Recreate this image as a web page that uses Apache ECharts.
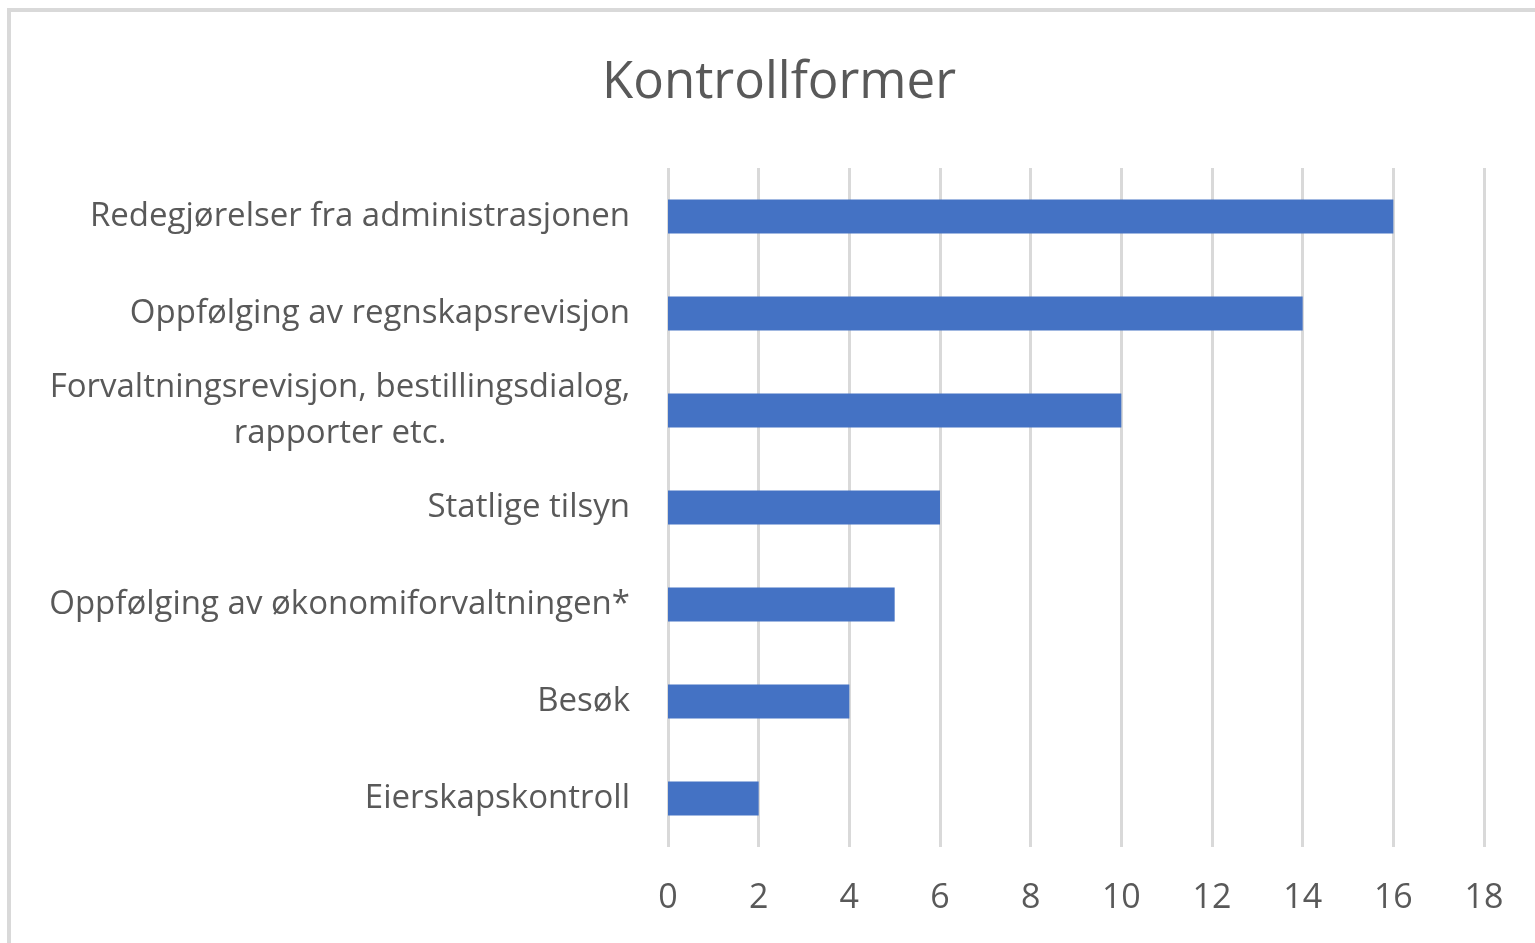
<!DOCTYPE html>
<html>
<head>
<meta charset="utf-8">
<script src="https://cdn.jsdelivr.net/npm/echarts@6/dist/echarts.min.js"></script>
<style>
  html, body { margin: 0; padding: 0; background: #fff; }
  #frame { position: absolute; left: 7px; top: 8px; width: 1540px; height: 950px;
           border-left: 4px solid #d9d9d9; border-top: 4px solid #d9d9d9; }
  #chart { position: absolute; left: 0; top: 0; width: 1535px; height: 943px; }
</style>
</head>
<body>
<div id="frame"></div>
<div id="chart"></div>
<script>
// Kategorier og verdier, lest fra figuren (ovenfra og ned)
const kategorier = [
    'Redegjørelser fra administrasjonen',
    'Oppfølging av regnskapsrevisjon',
    'Forvaltningsrevisjon, bestillingsdialog,\nrapporter etc.',
    'Statlige tilsyn',
    'Oppfølging av økonomiforvaltningen*',
    'Besøk',
    'Eierskapskontroll'
];
const antall = [16, 14, 10, 6, 5, 4, 2];
const xTicks = [0, 2, 4, 6, 8, 10, 12, 14, 16, 18];

const myChart = echarts.init(document.getElementById('chart'));

// the wrapped label is centered line by line in the original
const yData = kategorier.map(k => k.indexOf('\n') >= 0
    ? {value: k, textStyle: {align: 'center', padding: [0, 580, 0, 0]}}
    : k);

const option = {
    animation: false,
    title: {
        text: 'Kontrollformer',
        left: 597,
        top: 53,
        textStyle: {
            fontFamily: 'Open Sans',
            fontSize: 51,
            fontWeight: 'normal',
            color: '#595959'
        }
    },
    grid: {
        left: 668,
        top: 168,
        width: 816,
        height: 679
    },
    xAxis: {
        type: 'value',
        min: xTicks[0],
        max: xTicks[xTicks.length - 1],
        interval: 2,
        axisLine: {show: false},
        axisTick: {show: false},
        axisLabel: {
            margin: 34,
            fontFamily: 'Open Sans',
            fontSize: 34,
            color: '#595959'
        },
        splitLine: {lineStyle: {color: '#d9d9d9', width: 3}}
    },
    yAxis: {
        type: 'category',
        inverse: true,
        data: yData,
        axisLine: {show: false},
        axisTick: {show: false},
        axisLabel: {
            margin: 38,
            fontFamily: 'Open Sans',
            fontSize: 33,
            lineHeight: 46,
            color: '#595959'
        }
    },
    series: [{
        type: 'bar',
        data: antall,
        barCategoryGap: '65%',
        itemStyle: {color: '#4472C4'}
    }]
};

myChart.setOption(option);
</script>
</body>
</html>
